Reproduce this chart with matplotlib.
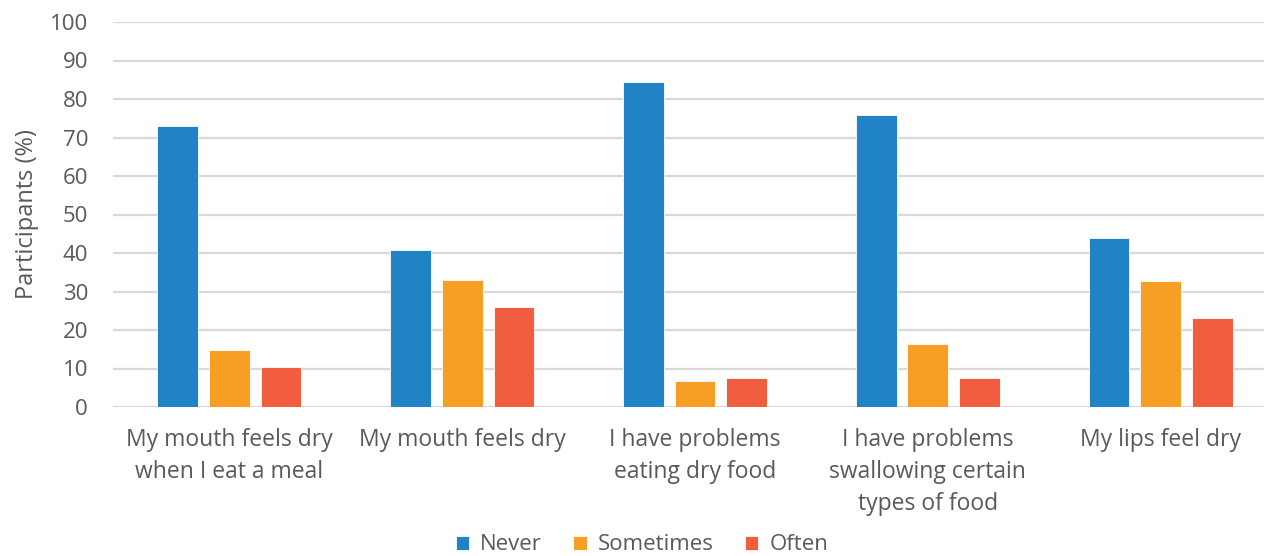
import numpy as np
import matplotlib
matplotlib.use("Agg")
import matplotlib.pyplot as plt

plt.rcParams['font.family'] = ['Open Sans', 'DejaVu Sans']

categories = ["My mouth feels dry\nwhen I eat a meal",
              "My mouth feels dry",
              "I have problems\neating dry food",
              "I have problems\nswallowing certain\ntypes of food",
              "My lips feel dry"]
never = [73.1, 40.7, 84.5, 75.8, 43.8]
sometimes = [14.7, 32.9, 6.7, 16.3, 32.6]
often = [10.3, 25.9, 7.6, 7.6, 23.1]
series = ["Never", "Sometimes", "Often"]
colors = ["#1F83C6", "#F79F25", "#F05D3F"]

txt = "#595959"
grid = "#D9D9D9"

fig = plt.figure(figsize=(12.64, 5.56), dpi=100)
ax = fig.add_axes([113/1264, 1-407/556, 1-113/1264, (407-22)/556])

x = np.arange(len(categories))
w = 0.175
step = 0.222
for i, (vals, lab, c) in enumerate(zip([never, sometimes, often], series, colors)):
    ax.bar(x + (i-1)*step, vals, w, color=c, label=lab, zorder=3,
           edgecolor="white", linewidth=0.6)

ax.set_xlim(-0.5, 4.444)
ax.set_ylim(0, 100)
ax.set_yticks(np.arange(0, 101, 10))
ax.yaxis.grid(True, color=grid, lw=1.6, zorder=0)
for s in ax.spines.values():
    s.set_visible(False)
ax.axhline(0, color=grid, lw=1.6, zorder=2)
ax.tick_params(axis='y', length=0, pad=18, labelsize=16, labelcolor=txt)
ax.tick_params(axis='x', length=0, pad=15, labelsize=16.5, labelcolor=txt)
ax.set_xticks(x)
ax.set_xticklabels(categories, linespacing=1.45)
ax.set_ylabel("Participants (%)", fontsize=17, color=txt, labelpad=8)

fig.legend(loc="center", bbox_to_anchor=(642/1264, 1-545/556), ncol=3,
           frameon=False, fontsize=16, labelcolor=txt, handlelength=0.6,
           handleheight=0.6, handletextpad=0.5, columnspacing=1.4)

fig.savefig("out.png", dpi=100)
